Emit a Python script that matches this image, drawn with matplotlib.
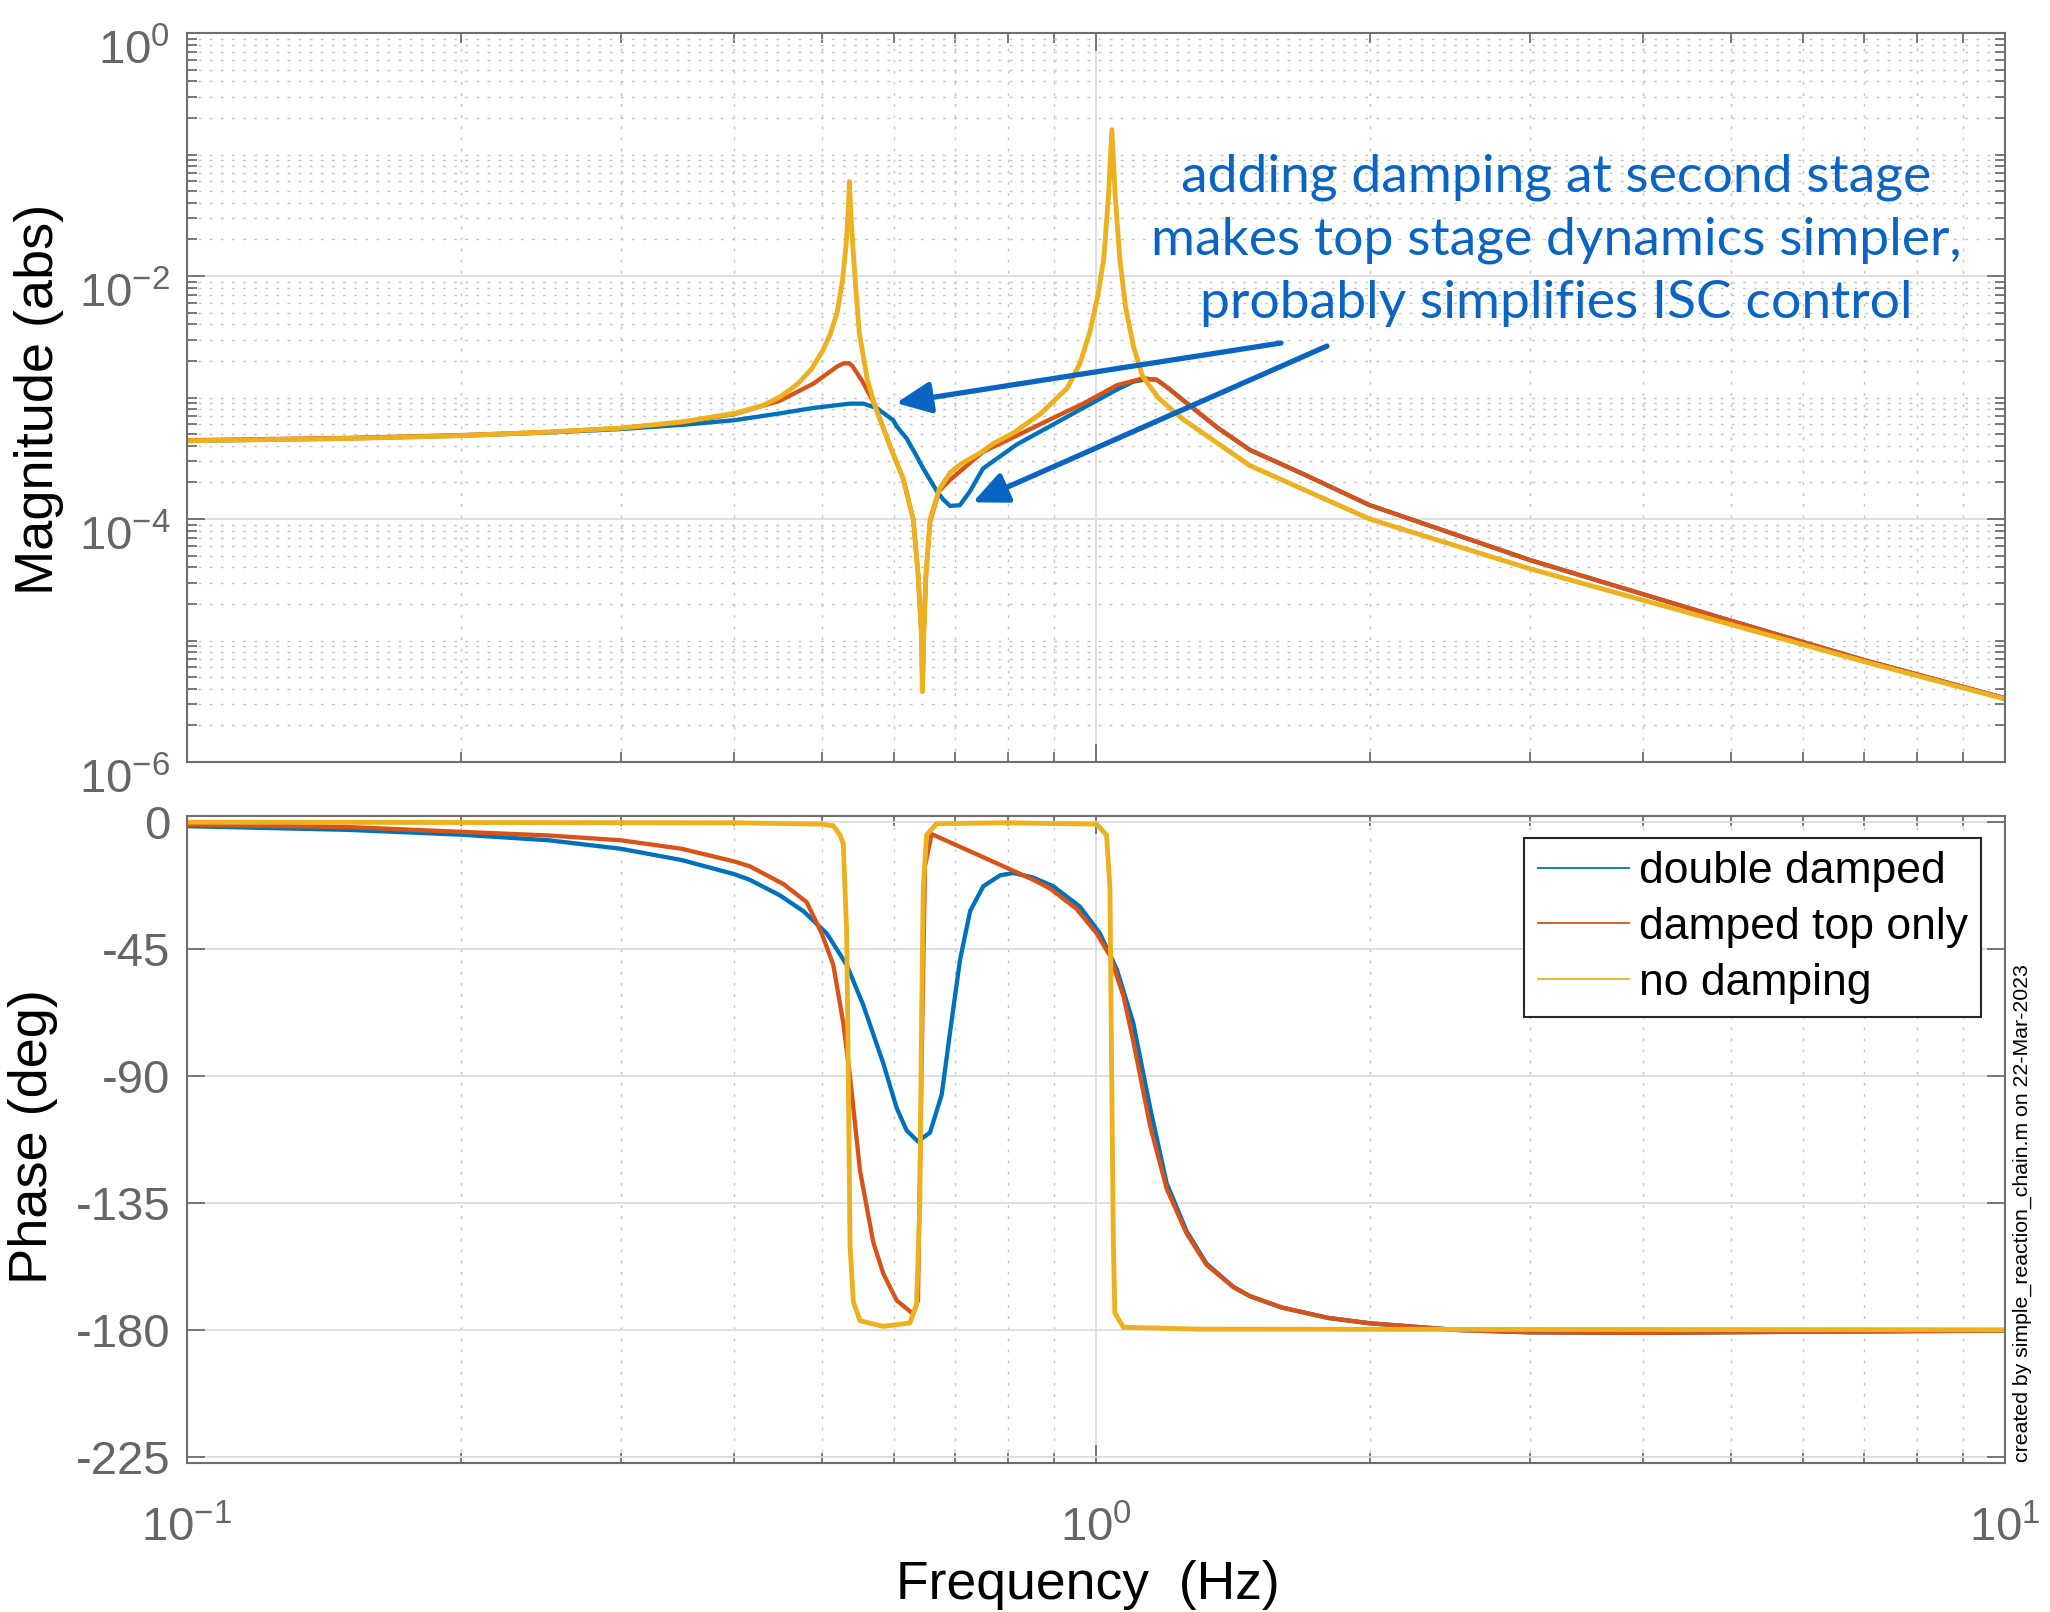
import matplotlib
matplotlib.use("Agg")
import numpy as np
from matplotlib import pyplot as plt
from matplotlib.lines import Line2D
from matplotlib.ticker import FixedLocator, LogLocator, NullFormatter
from matplotlib.transforms import ScaledTranslation

plt.rcParams['font.family'] = ['Liberation Sans', 'DejaVu Sans']
plt.rcParams['mathtext.default'] = 'regular'
plt.rcParams['axes.unicode_minus'] = False

# series names and colours (MATLAB default order)
labels = ['double damped', 'damped top only', 'no damping']
colors = ['#0072BD', '#D95319', '#EDB120']

# ---- magnitude ----
f_mag_double = [0.1, 0.15, 0.2, 0.25, 0.3, 0.35, 0.4, 0.449, 0.4887, 0.5364,
                0.5546, 0.5737, 0.5984, 0.6035, 0.619, 0.6347, 0.6457, 0.668, 0.679,
                0.691, 0.7085, 0.727, 0.751, 0.818, 0.890, 0.968, 1.054, 1.099, 1.14,
                1.166, 1.2, 1.247, 1.358, 1.477, 1.7, 2.0, 3.0, 5.0, 7.0, 10.0]
mag_double = [4.4e-4, 4.6e-4, 4.85e-4, 5.15e-4, 5.5e-4, 5.95e-4, 6.5e-4, 7.4e-4,
              8.2e-4, 8.9e-4, 8.9e-4, 8.2e-4, 6.5e-4, 5.8e-4, 4.6e-4, 3.3e-4, 2.6e-4,
              1.7e-4, 1.45e-4, 1.28e-4, 1.3e-4, 1.7e-4, 2.6e-4, 4.1e-4, 5.8e-4, 8.2e-4,
              1.16e-3, 1.35e-3, 1.42e-3, 1.4e-3, 1.2e-3, 9.5e-4, 5.7e-4, 3.7e-4, 2.3e-4,
              1.3e-4, 4.6e-5, 1.45e-5, 6.9e-6, 3.35e-6]

f_mag_top = [0.1, 0.15, 0.2, 0.25, 0.3, 0.35, 0.4, 0.449, 0.4887, 0.505, 0.519, 0.527,
             0.535, 0.540, 0.5546, 0.571, 0.5934, 0.6137, 0.6295, 0.6373, 0.6423, 0.6443,
             0.6466, 0.650, 0.6568, 0.672, 0.691, 0.751, 0.818, 0.890, 0.968, 1.054,
             1.127, 1.166, 1.2, 1.247, 1.358, 1.477, 1.7, 2.0, 3.0, 5.0, 7.0, 10.0]
mag_top = [4.45e-4, 4.65e-4, 4.9e-4, 5.2e-4, 5.6e-4, 6.2e-4, 7.3e-4, 9.4e-4, 1.3e-3,
           1.55e-3, 1.8e-3, 1.9e-3, 1.92e-3, 1.8e-3, 1.32e-3, 8.7e-4, 4.0e-4, 2.13e-4,
           9.9e-5, 3.44e-5, 1.2e-5, 3.8e-6, 1.2e-5, 3.4e-5, 9.5e-5, 1.7e-4, 2.1e-4,
           3.57e-4, 4.85e-4, 6.6e-4, 8.9e-4, 1.26e-3, 1.44e-3, 1.4e-3, 1.2e-3, 9.5e-4,
           5.7e-4, 3.7e-4, 2.3e-4, 1.3e-4, 4.6e-5, 1.45e-5, 6.9e-6, 3.35e-6]

f_mag_none = [0.1, 0.15, 0.2, 0.25, 0.3, 0.35, 0.4, 0.43, 0.45, 0.47, 0.486, 0.5, 0.51,
              0.519, 0.526, 0.531, 0.534, 0.5355, 0.537, 0.540, 0.5445, 0.549, 0.5603,
              0.571, 0.5934, 0.6137, 0.6295, 0.6373, 0.6423, 0.6443, 0.6466, 0.650,
              0.6568, 0.672, 0.691, 0.7085, 0.7454, 0.772, 0.811, 0.868, 0.93, 0.96,
              0.985, 1.005, 1.02, 1.032, 1.041, 1.05, 1.062, 1.078, 1.1, 1.125, 1.17,
              1.215, 1.247, 1.358, 1.477, 2.0, 3.0, 5.0, 7.0, 10.0]
mag_none = [4.4e-4, 4.6e-4, 4.85e-4, 5.2e-4, 5.6e-4, 6.3e-4, 7.4e-4, 8.6e-4, 1.02e-3,
            1.3e-3, 1.7e-3, 2.4e-3, 3.3e-3, 5.0e-3, 9.0e-3, 1.8e-2, 3.6e-2, 6.0e-2,
            3.6e-2, 1.8e-2, 7.5e-3, 3.4e-3, 1.4e-3, 8.6e-4, 4.0e-4, 2.13e-4, 9.9e-5,
            3.44e-5, 1.2e-5, 3.8e-6, 1.2e-5, 3.44e-5, 9.9e-5, 1.75e-4, 2.4e-4, 2.8e-4,
            3.5e-4, 4.2e-4, 5.1e-4, 7.3e-4, 1.2e-3, 1.9e-3, 3.5e-3, 7.0e-3, 1.4e-2,
            4.5e-2, 1.6e-1, 4.5e-2, 1.4e-2, 5.5e-3, 2.6e-3, 1.5e-3, 1.0e-3, 7.8e-4,
            6.6e-4, 4.25e-4, 2.75e-4, 1.0e-4, 3.9e-5, 1.35e-5, 6.7e-6, 3.3e-6]

# ---- phase (deg) ----
f_ph_double = [0.1, 0.15, 0.2, 0.25, 0.3, 0.35, 0.4, 0.416, 0.449, 0.4764, 0.5056,
               0.5317, 0.5546, 0.5834, 0.6035, 0.619, 0.637, 0.6568, 0.6765, 0.691,
               0.7085, 0.727, 0.7516, 0.7844, 0.811, 0.853, 0.8975, 0.96, 1.010, 1.054,
               1.099, 1.147, 1.196, 1.258, 1.323, 1.416, 1.477, 1.6, 1.8, 2.0, 2.5,
               3.0, 4.0, 6.0, 10.0]
ph_double = [-1.5, -2.8, -4.5, -6.5, -9.5, -13.5, -18.5, -20.5, -26, -31.6, -39.5,
             -50.6, -64.9, -85.5, -101.3, -109.3, -113.2, -110, -96.6, -74.4, -49,
             -31.6, -22.8, -18.9, -18.1, -19.7, -22.8, -30, -39.5, -52.2, -71.2, -101.3,
             -128, -145, -156.5, -164.7, -168, -172, -175.7, -177.6, -180, -180.8,
             -181, -180.6, -180.2]

f_ph_top = [0.1, 0.15, 0.2, 0.25, 0.3, 0.35, 0.4, 0.416, 0.453, 0.4805, 0.4992, 0.514,
            0.5272, 0.5363, 0.55, 0.5689, 0.5834, 0.6035, 0.6295, 0.637, 0.6428, 0.6484,
            0.6594, 0.7516, 0.853, 0.89, 0.952, 1.0016, 1.036, 1.072, 1.099, 1.147,
            1.196, 1.258, 1.323, 1.416, 1.477, 1.6, 1.8, 2.0, 2.5, 3.0, 4.0, 6.0, 10.0]
ph_top = [-1.0, -1.8, -3.5, -4.8, -6.5, -9.5, -14, -15.7, -22, -28.4, -39.5, -50.6,
          -71.2, -90.2, -123.5, -149, -160, -169.5, -174.3, -169.5, -87, -15.7, -4.3,
          -12.5, -20.5, -23.6, -30.8, -39.5, -47.4, -61.7, -77.6, -107.7, -129.9,
          -145.8, -156.9, -164.8, -168, -172, -175.7, -177.6, -180, -180.8, -181,
          -180.6, -180.2]

f_ph_none = [0.1, 0.4, 0.5, 0.514, 0.5228, 0.5272, 0.5317, 0.5339, 0.5363, 0.5408, 0.55,
             0.5834, 0.6241, 0.6347, 0.6401, 0.6428, 0.6456, 0.6511, 0.668, 0.8, 1.0016,
             1.027, 1.036, 1.0404, 1.045, 1.049, 1.072, 1.3, 10.0]
ph_none = [-0.1, -0.3, -0.8, -1.4, -4.6, -7.8, -39, -87, -150, -170, -176.7, -178.7,
           -177.5, -171, -134.6, -71, -23.6, -4.6, -0.6, -0.3, -0.8, -4.6, -23.6, -87,
           -150, -174, -179, -179.7, -179.9]

mag_series = [(f_mag_double, mag_double), (f_mag_top, mag_top), (f_mag_none, mag_none)]
ph_series = [(f_ph_double, ph_double), (f_ph_top, ph_top), (f_ph_none, ph_none)]
widths = [3.1, 3.1, 3.5]

note = 'adding damping at second stage\nmakes top stage dynamics simpler,\nprobably simplifies ISC control'
note_color = '#0A64C4'

W, H = 2050, 1612
fig = plt.figure(figsize=(W / 100, H / 100), dpi=100)


def frac(x0, y0, x1, y1):
    return [x0 / W, 1 - y1 / H, (x1 - x0) / W, (y1 - y0) / H]


ax_mag = fig.add_axes(frac(187, 33, 2005, 762))
ax_ph = fig.add_axes(frac(187, 816, 2005, 1463))

spine_col = '#6E6E6E'
for ax in (ax_mag, ax_ph):
    ax.set_xscale('log')
    ax.set_xlim(0.1, 10)
    ax.xaxis.set_major_locator(FixedLocator([0.1, 1, 10]))
    ax.xaxis.set_minor_locator(LogLocator(base=10, subs=np.arange(2, 10)))
    ax.xaxis.set_minor_formatter(NullFormatter())
    ax.grid(True, which='major', color='#DCDCDC', lw=1.3, ls='-')
    ax.grid(True, which='minor', color='#C4C4C4', lw=1.0, ls=(0, (2, 6)))
    ax.set_axisbelow(True)
    ax.tick_params(which='both', direction='in', top=True, right=True,
                   color=spine_col, labelcolor='#666666', labelsize=34, width=1.3)
    ax.tick_params(which='major', length=13)
    ax.tick_params(which='minor', length=7)
    for s in ax.spines.values():
        s.set_color(spine_col)
        s.set_linewidth(1.5)

for (f, m), c, lw in zip(mag_series, colors, widths):
    ax_mag.plot(f, m, color=c, lw=lw, solid_joinstyle='round')
for (f, p), c, lw in zip(ph_series, colors, widths):
    ax_ph.plot(f, p, color=c, lw=lw, solid_joinstyle='round')

ax_mag.set_yscale('log')
ax_mag.set_ylim(1e-6, 1)
ax_mag.yaxis.set_major_locator(FixedLocator([1e-6, 1e-4, 1e-2, 1]))
ax_mag.set_yticklabels([r'$10^{-6}$', r'$10^{-4}$', r'$10^{-2}$', r'$10^{0}$'])
ax_mag.yaxis.set_minor_locator(LogLocator(base=10, subs=np.arange(1, 10), numticks=40))
ax_mag.yaxis.set_minor_formatter(NullFormatter())
ax_mag.tick_params(axis='x', labelbottom=False)
ax_mag.tick_params(axis='y', pad=12)

ax_ph.set_ylim(-227.1, 2.1)
ax_ph.set_yticks([-225, -180, -135, -90, -45, 0])
ax_ph.set_yticklabels(['-225', '-180', '-135', '-90', '-45', '0'])
ax_ph.set_xticklabels([r'$10^{-1}$', r'$10^{0}$', r'$10^{1}$'])
ax_ph.tick_params(axis='x', pad=31)
ax_ph.tick_params(axis='y', pad=12)

# MATLAB puts the base of the power label below the tick
shift_down = ScaledTranslation(0, -0.14, fig.dpi_scale_trans)
for t in ax_mag.yaxis.get_major_ticks():
    t.label1.set_transform(t.label1.get_transform() + shift_down)

fig.text(39 / W, 1 - 399 / H, 'Magnitude (abs)', rotation=90, ha='center', va='center',
         fontsize=39)
fig.text(33 / W, 1 - 1137 / H, 'Phase (deg)', rotation=90, ha='center', va='center',
         fontsize=39)
fig.text(1088 / W, 1 - 1585 / H, 'Frequency  (Hz)', ha='center', va='center', fontsize=38.5)
fig.text(2022 / W, 1 - 1462 / H, 'created by simple_reaction_chain.m on 22-Mar-2023',
         rotation=90, ha='center', va='bottom', fontsize=15.3)

handles = [Line2D([], [], color=c, lw=1.3) for c in colors]
leg = ax_ph.legend(handles, labels, loc='upper right', bbox_to_anchor=(0.9868, 0.966),
                   borderaxespad=0, fontsize=32, frameon=True, fancybox=False,
                   edgecolor='#262626', handlelength=2.05, handletextpad=0.22,
                   labelspacing=0.33, borderpad=0.3)
leg.get_frame().set_linewidth(1.5)
leg.get_frame().set_alpha(1)

ax_mag.text(0.753, 0.7155, note, transform=ax_mag.transAxes, ha='center', va='center',
            fontsize=38.5, color=note_color, family=['Lato', 'DejaVu Sans'],
            linespacing=1.42)
arrow_kw = dict(arrowstyle='-|>,head_length=2.1,head_width=0.95', color=note_color,
                lw=3.8, shrinkA=0, shrinkB=0)
ax_mag.annotate('', xy=(0.6026, 9.0e-4), xytext=(1.598, 2.81e-3), arrowprops=arrow_kw)
ax_mag.annotate('', xy=(0.7317, 1.37e-4), xytext=(1.795, 2.65e-3), arrowprops=arrow_kw)

fig.savefig('out.png', dpi=100)
